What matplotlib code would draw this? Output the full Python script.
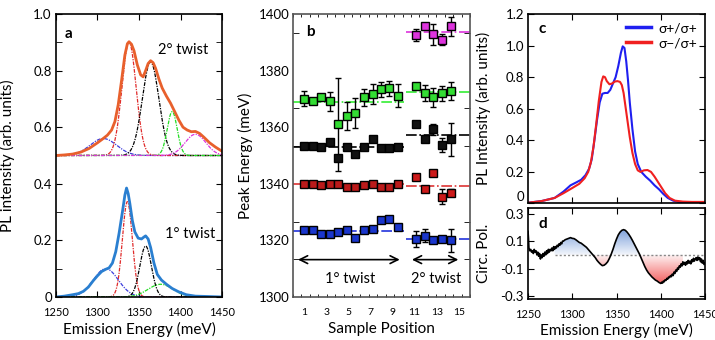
import numpy as np
import matplotlib
matplotlib.use("Agg")
import matplotlib.pyplot as plt
from matplotlib.path import Path

plt.rcParams['font.family'] = ['Lato', 'DejaVu Sans']
plt.rcParams['axes.linewidth'] = 1.2
plt.rcParams['xtick.direction'] = 'in'
plt.rcParams['ytick.direction'] = 'in'

# ---- panel a: PL spectra (measured) ----
e2 = [1250, 1260, 1270, 1280, 1290, 1300, 1306, 1312, 1317, 1321, 1325, 1329, 1333, 1336,
      1338, 1341, 1344, 1348, 1352, 1355, 1358, 1361, 1364, 1367, 1370, 1374, 1378, 1383,
      1388, 1393, 1398, 1403, 1408, 1413, 1418, 1423, 1428, 1435, 1442, 1450]
pl2 = [0.500, 0.502, 0.505, 0.512, 0.525, 0.545, 0.558, 0.572, 0.590, 0.620, 0.680, 0.765,
       0.855, 0.895, 0.902, 0.893, 0.870, 0.820, 0.785, 0.778, 0.800, 0.825, 0.835, 0.828,
       0.808, 0.770, 0.738, 0.710, 0.685, 0.655, 0.625, 0.600, 0.590, 0.584, 0.585, 0.578,
       0.565, 0.545, 0.530, 0.515]
e1 = [1250, 1260, 1270, 1277, 1283, 1289, 1295, 1300, 1305, 1310, 1314, 1318, 1322, 1326,
      1330, 1333, 1335, 1337, 1339, 1342, 1345, 1349, 1353, 1356, 1358, 1361, 1364, 1368,
      1372, 1377, 1383, 1390, 1398, 1407, 1418, 1430, 1440, 1450]
pl1 = [0.0, 0.003, 0.008, 0.012, 0.020, 0.035, 0.058, 0.075, 0.090, 0.098, 0.103, 0.120,
       0.160, 0.225, 0.300, 0.360, 0.385, 0.365, 0.330, 0.270, 0.230, 0.208, 0.205, 0.212,
       0.216, 0.205, 0.175, 0.120, 0.080, 0.060, 0.045, 0.030, 0.018, 0.008, 0.003, 0.002,
       0.001, 0.0]

# fitted gaussian components: centre (meV), height, width (meV)
comp_colors = ['#3b3bdd', '#e02a2a', 'black', '#22dd22', '#dd33dd']
fit2_center = [1307, 1338, 1364, 1390, 1418]
fit2_height = [0.06, 0.40, 0.33, 0.155, 0.075]
fit2_width = [16, 8.5, 10, 6, 12.5]
offset2 = 0.5
fit1_center = [1310, 1336, 1358, 1376]
fit1_height = [0.10, 0.337, 0.18, 0.045]
fit1_width = [15, 6, 7, 15]

# ---- panel b: peak energies ----
pos1 = [1.0, 1.8, 2.5, 3.3, 4.1, 4.9, 5.6, 6.4, 7.2, 8.0, 8.7, 9.5]
pos2 = [11.1, 11.9, 12.7, 13.5, 14.3]
green1 = [1370.1, 1369.1, 1370.8, 1369.1, 1361.0, 1364.0, 1364.9, 1370.5, 1371.7, 1373.4, 1373.7, 1371.1]
green1_err = [2.6, 0, 0, 3.2, 16.5, 5.0, 5.3, 3.0, 3.5, 2.6, 2.6, 4.1]
black1 = [1353.3, 1353.3, 1353.0, 1354.6, 1349.2, 1353.1, 1350.4, 1353.1, 1355.7, 1352.5, 1352.5, 1353.1]
black1_err = [0, 0, 0, 0, 0, 0, 0, 0, 0, 0, 0, 0]
red1 = [1340.0, 1340.0, 1339.5, 1340.0, 1340.0, 1339.0, 1339.0, 1339.5, 1340.0, 1339.0, 1339.0, 1340.0]
red1_err = [0, 0, 0, 0, 0, 0, 0, 0, 0, 0, 0, 0]
blue1 = [1323.8, 1323.5, 1322.1, 1322.1, 1322.9, 1323.8, 1320.9, 1323.5, 1324.2, 1327.1, 1327.4, 1324.7]
blue1_err = [0, 0, 0, 0, 0, 0, 0, 0, 0, 0, 0, 0]
magenta2 = [1392.6, 1395.6, 1392.9, 1390.9, 1395.6]
magenta2_err = [2.2, 0, 3.7, 1.9, 3.2]
green2 = [1374.6, 1372.0, 1370.5, 1372.0, 1372.8]
green2_err = [0, 2.8, 3.2, 2.7, 3.1]
black2 = [1361.0, 1355.7, 1359.3, 1353.7, 1355.7]
black2_err = [0, 0, 1.9, 2.6, 5.9]
red2 = [1342.5, 1338.3, 1343.7, 1335.4, 1336.8]
red2_err = [0, 0, 0, 2.6, 1.2]
blue2 = [1320.5, 1321.7, 1320.0, 1320.5, 1320.0]
blue2_err = [2.8, 2.4, 0, 0, 4.1]
mean1 = {'green': 1369.0, 'black': 1353.0, 'red': 1339.8, 'blue': 1323.2}
mean2 = {'magenta': 1393.5, 'green': 1372.3, 'black': 1357.1, 'red': 1339.2, 'blue': 1320.5}

# ---- panel c: polarised PL ----
ec_blue = [1250, 1265, 1280, 1290, 1298, 1305, 1310, 1315, 1319, 1322, 1325, 1328, 1331, 1334,
           1337, 1340, 1343, 1346, 1349, 1352, 1355, 1357, 1359, 1361, 1363, 1365, 1368, 1371,
           1374, 1378, 1383, 1388, 1393, 1398, 1403, 1408, 1414, 1420, 1430, 1440, 1450]
pc_blue = [0.005, 0.015, 0.035, 0.075, 0.115, 0.135, 0.150, 0.180, 0.220, 0.280, 0.400, 0.530,
           0.640, 0.695, 0.700, 0.700, 0.720, 0.760, 0.800, 0.870, 0.955, 0.995, 0.985, 0.900,
           0.780, 0.640, 0.470, 0.330, 0.250, 0.200, 0.170, 0.145, 0.115, 0.090, 0.060, 0.035,
           0.018, 0.010, 0.008, 0.008, 0.008]
ec_red = [1250, 1265, 1280, 1290, 1300, 1308, 1314, 1318, 1321, 1324, 1327, 1330, 1333, 1335,
          1337, 1339, 1342, 1345, 1348, 1351, 1354, 1356, 1358, 1360, 1362, 1365, 1368, 1371,
          1374, 1377, 1381, 1385, 1389, 1393, 1397, 1401, 1405, 1410, 1416, 1425, 1435, 1450]
pc_red = [0.005, 0.015, 0.035, 0.065, 0.098, 0.125, 0.160, 0.200, 0.260, 0.360, 0.500, 0.650,
          0.770, 0.805, 0.800, 0.775, 0.755, 0.760, 0.772, 0.775, 0.770, 0.750, 0.700, 0.620,
          0.540, 0.420, 0.320, 0.250, 0.210, 0.200, 0.210, 0.212, 0.200, 0.170, 0.135, 0.100,
          0.065, 0.035, 0.018, 0.012, 0.010, 0.010]

# ---- panel d: circular polarisation ----
ed = [1250, 1250.5, 1251, 1252, 1253, 1254, 1255, 1256, 1257, 1258, 1259, 1260, 1261, 1262,
      1263, 1264, 1265, 1266, 1267, 1268, 1269, 1270, 1271, 1272, 1273, 1274, 1275, 1276,
      1277, 1278, 1279, 1280, 1281, 1282, 1283, 1284, 1285, 1286, 1287, 1288, 1289, 1290,
      1292, 1294, 1296, 1298, 1300, 1302, 1304, 1306, 1308, 1310, 1312, 1314, 1316, 1318,
      1320, 1322, 1324, 1326, 1328, 1330, 1332, 1334, 1336, 1338, 1340, 1342, 1344, 1346,
      1348, 1350, 1352, 1354, 1356, 1358, 1360, 1362, 1364, 1366, 1368, 1370, 1372, 1374,
      1376, 1378, 1380, 1382, 1384, 1386, 1388, 1390, 1392, 1394, 1396, 1398, 1400,
      1401, 1402, 1403, 1404, 1405, 1406, 1407, 1408, 1409, 1410, 1411, 1412, 1413, 1414,
      1415, 1416, 1417, 1418, 1419, 1420, 1421, 1422, 1423, 1424, 1425, 1426, 1427, 1428,
      1429, 1430, 1431, 1432, 1433, 1434, 1435, 1436, 1437, 1438, 1439, 1440, 1441, 1442,
      1443, 1444, 1445, 1446, 1447, 1448, 1449, 1450]
cp = [0.17, 0.12, 0.05, 0.03, 0.04, 0.02, 0.03, 0.01, 0.04, 0.02, 0.03, 0.00, 0.02, -0.01,
      0.01, -0.03, 0.00, -0.02, 0.01, -0.01, 0.02, 0.00, 0.03, 0.01, 0.04, 0.02, 0.04, 0.03,
      0.05, 0.03, 0.06, 0.04, 0.06, 0.05, 0.07, 0.06, 0.08, 0.07, 0.09, 0.08, 0.10, 0.10,
      0.11, 0.115, 0.12, 0.125, 0.12, 0.118, 0.11, 0.10, 0.09, 0.085, 0.075, 0.065, 0.055, 0.04,
      0.025, 0.01, -0.005, -0.02, -0.04, -0.055, -0.068, -0.078, -0.075, -0.065, -0.05, -0.025, 0.005, 0.04,
      0.08, 0.115, 0.145, 0.165, 0.178, 0.183, 0.178, 0.165, 0.148, 0.128, 0.105, 0.08, 0.055, 0.03,
      0.005, -0.025, -0.055, -0.085, -0.11, -0.13, -0.145, -0.16, -0.172, -0.183, -0.19, -0.2, -0.207,
      -0.198, -0.205, -0.19, -0.195, -0.18, -0.185, -0.17, -0.175, -0.16, -0.165, -0.15, -0.158, -0.14, -0.15,
      -0.125, -0.135, -0.11, -0.12, -0.095, -0.105, -0.08, -0.09, -0.065, -0.08, -0.05, -0.07, -0.055, -0.075,
      -0.05, -0.065, -0.04, -0.06, -0.045, -0.065, -0.035, -0.05, -0.025, -0.045, -0.03, -0.02, -0.04, -0.015,
      -0.035, -0.02, -0.05, -0.03, -0.06, -0.04, -0.07, -0.06]


def gauss(e, c, h, w):
    return h * np.exp(-0.5 * ((e - c) / w) ** 2)


fig = plt.figure(figsize=(7.15, 3.4), dpi=100)
axa = fig.add_axes([0.0783, 0.1265, 0.2322, 0.8323])
axb = fig.add_axes([0.4098, 0.1265, 0.2475, 0.8323])
axc = fig.add_axes([0.7385, 0.4015, 0.2475, 0.5573])
axd = fig.add_axes([0.7385, 0.1206, 0.2475, 0.2676])

# ---------------- a ----------------
egrid = np.linspace(1250, 1450, 401)
dd = (0, (3, 1, 1, 1))
for c, h, w, col in zip(fit2_center, fit2_height, fit2_width, comp_colors):
    axa.plot(egrid, offset2 + gauss(egrid, c, h, w), color=col, lw=0.9, ls=dd)
for c, h, w, col in zip(fit1_center, fit1_height, fit1_width, comp_colors):
    axa.plot(egrid, gauss(egrid, c, h, w), color=col, lw=0.9, ls=dd)
axa.plot(e2, pl2, color='#e8602c', lw=2)
axa.plot(e1, pl1, color='#2a7fd0', lw=2)
axa.set_xlim(1250, 1450)
axa.set_ylim(0, 1.0)
axa.set_xticks([1250, 1300, 1350, 1400, 1450])
axa.set_yticks([0, 0.2, 0.4, 0.6, 0.8, 1.0])
axa.set_yticklabels(['0', '0.2', '0.4', '0.6', '0.8', '1.0'])
axa.set_yticks(np.arange(0.1, 1.0, 0.2), minor=True)
axa.tick_params(axis='x', which='both', top=True, labelsize=8, pad=7, length=4)
axa.tick_params(axis='y', which='both', right=True, labelsize=9.5, pad=3, length=4)
axa.set_xlabel('Emission Energy (meV)', fontsize=11)
axa.set_ylabel('PL intensity (arb. units)', fontsize=11)
axa.xaxis.set_label_coords(0.5, -0.088)
axa.yaxis.set_label_coords(-0.247, 0.5)
axa.text(0.05, 0.93, 'a', transform=axa.transAxes, fontsize=11, fontweight='bold', va='center')
axa.text(1403, 0.873, '2° twist', fontsize=10.5, ha='center', va='center')
axa.text(1411, 0.223, '1° twist', fontsize=10.5, ha='center', va='center')

# ---------------- b ----------------
groups = [
    (pos1, green1, green1_err, '#33dd33'),
    (pos1, black1, black1_err, '#111111'),
    (pos1, red1, red1_err, '#bb1a1a'),
    (pos1, blue1, blue1_err, '#1a36cc'),
    (pos2, magenta2, magenta2_err, '#dd33dd'),
    (pos2, green2, green2_err, '#33dd33'),
    (pos2, black2, black2_err, '#111111'),
    (pos2, red2, red2_err, '#cc1a1a'),
    (pos2, blue2, blue2_err, '#1a36cc'),
]
for xs, ys, errs, col in groups:
    axb.errorbar(xs, ys, yerr=errs, fmt='none', ecolor='black', elinewidth=1,
                 capsize=2.5, capthick=1, zorder=2)
    axb.plot(xs, ys, ls='none', marker='s', ms=5.2, mfc=col, mec='black', mew=1, zorder=3)
line_cols = {'magenta': '#dd33dd', 'green': '#33ee33', 'black': 'black',
             'red': '#dd3333', 'blue': '#2233dd'}
for k, v in mean1.items():
    axb.plot([0, 10.0], [v, v], color=line_cols[k], lw=1.2, ls='-.', zorder=1)
for k, v in mean2.items():
    axb.plot([10.2, 16], [v, v], color=line_cols[k], lw=1.2, ls='-.', zorder=1)
axb.annotate('', xy=(0.2, 1313.2), xytext=(9.9, 1313.2),
             arrowprops=dict(arrowstyle='<->', lw=1.2, color='black', mutation_scale=14))
axb.annotate('', xy=(10.5, 1313.2), xytext=(15.2, 1313.2),
             arrowprops=dict(arrowstyle='<->', lw=1.2, color='black', mutation_scale=14))
axb.text(5.2, 1306.5, '1° twist', fontsize=10.5, ha='center', va='center')
axb.text(12.9, 1306.5, '2° twist', fontsize=10.5, ha='center', va='center')
axb.text(1.2, 1393.6, 'b', fontsize=11, fontweight='bold', va='center')
axb.set_xlim(0, 16)
axb.set_ylim(1300, 1400)
axb.set_xticks([1, 3, 5, 7, 9, 11, 13, 15])
axb.set_xticks(np.arange(0, 16.01, 16 / 21), minor=True)
axb.set_yticks([1300, 1320, 1340, 1360, 1380, 1400])
axb.set_yticks(1300 + np.arange(0, 8) * 40 / 3, minor=True)
axb.tick_params(axis='x', which='major', labelsize=7.5, pad=8, length=0)
axb.tick_params(axis='x', which='minor', top=True, length=2.5)
axb.tick_params(axis='y', which='major', labelsize=9.5, pad=2.5, length=0)
axb.tick_params(axis='y', which='minor', right=True, length=4)
for s in axb.spines.values():
    s.set_color('#555555')
axb.set_xlabel('Sample Position', fontsize=11)
axb.set_ylabel('Peak Energy (meV)', fontsize=11)
axb.xaxis.set_label_coords(0.5, -0.09)
axb.yaxis.set_label_coords(-0.226, 0.5)

# ---------------- c ----------------
axc.plot(ec_blue, pc_blue, color='#1f1ff0', lw=1.5, label='σ+/σ+')
axc.plot(ec_red, pc_red, color='#f02020', lw=1.5, label='σ−/σ+')
axc.set_xlim(1250, 1450)
axc.set_ylim(0, 1.2)
axc.set_xticks([1300, 1350, 1400])
axc.set_xticklabels([])
axc.set_yticks([0, 0.2, 0.4, 0.6, 0.8, 1.0, 1.2])
axc.set_yticklabels(['0', '0.2', '0.4', '0.6', '0.8', '1.0', '1.2'])
axc.get_yticklabels()[0].set_va('bottom')
axc.tick_params(axis='x', top=True, length=4)
axc.tick_params(axis='y', right=True, labelsize=9.5, pad=3, length=4)
axc.set_ylabel('PL Intensity (arb. units)', fontsize=11)
axc.yaxis.set_label_coords(-0.209, 0.5)
axc.text(0.06, 0.92, 'c', transform=axc.transAxes, fontsize=11, fontweight='bold', va='center')
leg = axc.legend(loc='upper right', frameon=False, fontsize=10, handlelength=1.8,
                 handletextpad=0.5, borderaxespad=0.2, labelspacing=0.2)
for ln in leg.get_lines():
    ln.set_linewidth(2.5)

# ---------------- d ----------------
ed_a = np.array(ed)
cp_a = np.array(cp)
mask = (ed_a >= 1280) & (ed_a <= 1425)
poly = axd.fill_between(ed_a, 0, cp_a, where=mask, interpolate=True, color='none', lw=0)
clip = Path.make_compound_path(*poly.get_paths())
yy = np.linspace(-0.32, 0.34, 300)
rgba = np.ones((300, 1, 4))
up = yy > 0
rgba[up, 0, :3] = [0.42, 0.58, 0.84]
rgba[~up, 0, :3] = [0.95, 0.35, 0.35]
rgba[:, 0, 3] = np.clip(np.abs(yy) / 0.2, 0, 1) * 0.85 + 0.08
im = axd.imshow(rgba, extent=[1250, 1450, -0.32, 0.34], aspect='auto', origin='lower',
                zorder=1, interpolation='bilinear')
im.set_clip_path(clip, transform=axd.transData)
axd.plot([1280, 1450], [0, 0], color='#888888', lw=1, ls=(0, (1.5, 1.5)), zorder=2)
axd.plot(ed_a, cp_a, color='black', lw=1.2, zorder=3)
axd.set_xlim(1250, 1450)
axd.set_ylim(-0.32, 0.34)
axd.set_xticks([1250, 1300, 1350, 1400, 1450])
axd.set_yticks([-0.3, -0.1, 0.1, 0.3])
axd.set_yticklabels(['-0.3', '-0.1', '0.1', '0.3'])
axd.tick_params(axis='x', top=True, labelsize=8, pad=7, length=4)
axd.tick_params(axis='y', right=True, labelsize=9.5, pad=3, length=4)
axd.set_xlabel('Emission Energy (meV)', fontsize=11)
axd.set_ylabel('Circ. Pol.', fontsize=11)
axd.xaxis.set_label_coords(0.5, -0.26)
axd.yaxis.set_label_coords(-0.209, 0.5)
axd.text(0.06, 0.82, 'd', transform=axd.transAxes, fontsize=11, fontweight='bold', va='center')

fig.savefig('out.png', dpi=100)
